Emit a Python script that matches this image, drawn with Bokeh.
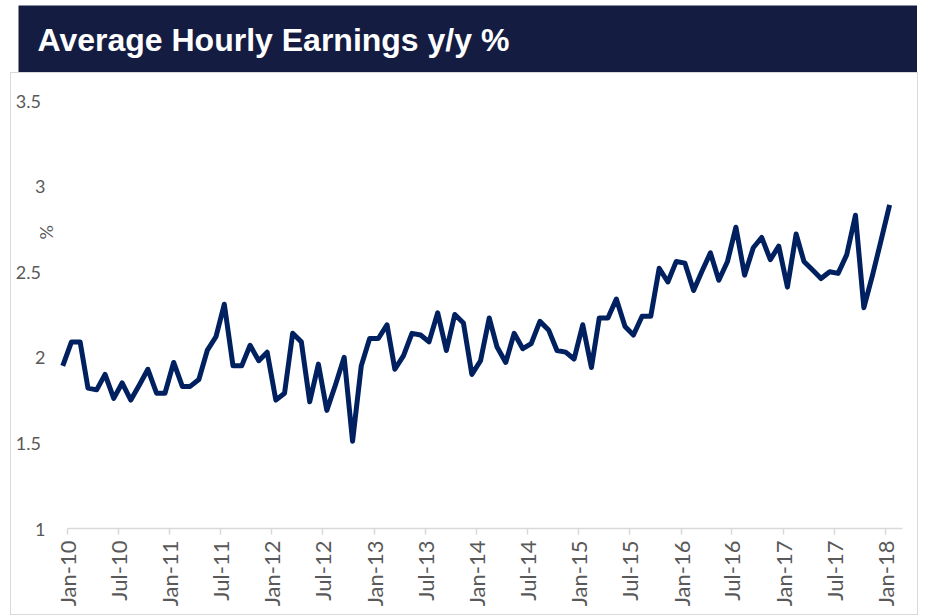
import math
import pandas as pd
from bokeh.plotting import figure
from bokeh.models import (Range1d, FixedTicker, DatetimeTickFormatter, Label, Spacer)
from bokeh.layouts import column, row
from bokeh.embed import file_html
from bokeh.resources import INLINE

# ---------------- data ----------------
title_text = "Average Hourly Earnings y/y %"
y_label = "%"
y_label_pos = 2.73

# monthly observations (plotted mid-month), Dec-09 .. Jan-18
months = pd.date_range("2009-12-01", "2018-01-01", freq="MS") + pd.Timedelta(days=14)
ahe_yoy = [
    1.95,                                                                   # Dec-09
    2.09, 2.09, 1.82, 1.81, 1.90, 1.76, 1.85, 1.75, 1.84, 1.93, 1.79, 1.79,  # 2010
    1.97, 1.83, 1.83, 1.87, 2.04, 2.12, 2.31, 1.95, 1.95, 2.07, 1.98, 2.03,  # 2011
    1.75, 1.79, 2.14, 2.09, 1.74, 1.96, 1.69, 1.84, 2.00, 1.51, 1.95, 2.11,  # 2012
    2.11, 2.19, 1.93, 2.01, 2.14, 2.13, 2.09, 2.26, 2.04, 2.25, 2.20, 1.90,  # 2013
    1.98, 2.23, 2.06, 1.97, 2.14, 2.05, 2.08, 2.21, 2.16, 2.04, 2.03, 1.99,  # 2014
    2.19, 1.94, 2.23, 2.23, 2.34, 2.18, 2.13, 2.24, 2.24, 2.52, 2.44, 2.56,  # 2015
    2.55, 2.39, 2.50, 2.61, 2.45, 2.56, 2.76, 2.48, 2.64, 2.70, 2.57, 2.65,  # 2016
    2.41, 2.72, 2.56, 2.51, 2.46, 2.50, 2.49, 2.60, 2.83, 2.29, 2.48, 2.68,  # 2017
    2.89,                                                                   # Jan-18
]

x_tick_dates = pd.date_range("2010-01-01", "2018-01-01", freq="6MS")
y_ticks = [1, 1.5, 2, 2.5, 3, 3.5]
y_tick_labels = ["1", "1.5", "2", "2.5", "3", "3.5"]
axis_start = pd.Timestamp("2010-01-01")
axis_end = pd.Timestamp("2018-03-02")

# ---------------- layout (page pixels) ----------------
FRAME_L, AXIS_L, FRAME_R = 39, 67, 901      # frame left edge, x-axis start, frame right
px_per_day = (FRAME_R - AXIS_L) / (axis_end - axis_start).days
x_start = axis_start - pd.Timedelta(days=(AXIS_L - FRAME_L) / px_per_day)

# ---------------- style ----------------
NAVY_BAR = "#141c42"
LINE = "#002060"
GREY_TXT = "#595959"
GREY_LN = "#d9d9d9"
TICK_FONT = "Lato"
NBSP = "\u00a0"

# ---------------- title bar ----------------
tf = figure(width=899, height=67, x_range=Range1d(0, 1), y_range=Range1d(0, 1),
            toolbar_location=None, output_backend="svg",
            x_axis_location=None, y_axis_location=None,
            min_border_left=0, min_border_right=0, min_border_top=0, min_border_bottom=0,
            background_fill_color=NAVY_BAR, border_fill_color=NAVY_BAR,
            outline_line_color=None)
tf.grid.visible = False
tf.add_layout(Label(x=0, y=0.5, x_offset=19, y_offset=-1, text=title_text,
                    text_color="white", text_font="Liberation Sans",
                    text_font_style="bold", text_font_size="32px",
                    text_baseline="middle", text_align="left"))

# ---------------- main chart ----------------
p = figure(width=908, height=543, x_axis_type="datetime",
           x_range=Range1d(x_start, axis_end), y_range=Range1d(1, 3.5),
           toolbar_location=None, output_backend="svg",
           min_border_left=FRAME_L - 11, min_border_right=918 - FRAME_R,
           min_border_top=27, min_border_bottom=88,
           background_fill_color="white", border_fill_color="white",
           outline_line_color=None,
           styles={"border": "1px solid #d9d9d9"})
p.grid.visible = False

p.line(months, ahe_yoy, line_color=LINE, line_width=5, line_join="round")

xa = p.xaxis[0]
xa.bounds = (axis_start, axis_end)
xa.ticker = FixedTicker(ticks=[d.timestamp() * 1000 for d in x_tick_dates])
fmt = "%b-%y"
xa.formatter = DatetimeTickFormatter(microseconds=fmt, milliseconds=fmt, seconds=fmt,
                                     minsec=fmt, minutes=fmt, hourmin=fmt, hours=fmt,
                                     days=fmt, months=fmt, years=fmt)
xa.major_label_orientation = math.pi / 2
xa.axis_line_color = GREY_LN
xa.axis_line_width = 1.5
xa.major_tick_line_color = GREY_LN
xa.major_tick_line_width = 1.5
xa.major_tick_out = 6
xa.major_tick_in = 0
xa.minor_tick_line_color = None
xa.major_label_text_color = GREY_TXT
xa.major_label_text_font = TICK_FONT
xa.major_label_text_font_size = "22px"
xa.major_label_standoff = 6

ya = p.yaxis[0]
ya.ticker = FixedTicker(ticks=y_ticks)
ya.major_label_overrides = {t: (lab if "." not in lab else lab + NBSP)
                            for t, lab in zip(y_ticks, y_tick_labels)}
ya.axis_line_color = None
ya.major_tick_line_color = None
ya.major_tick_out = 0
ya.major_tick_in = 0
ya.minor_tick_line_color = None
ya.major_label_text_color = GREY_TXT
ya.major_label_text_font = TICK_FONT
ya.major_label_text_font_size = "18px"
ya.major_label_standoff = -6

# rotated "%" axis title, sitting between the tick labels (inside the frame)
p.add_layout(Label(x=axis_start, y=y_label_pos, x_offset=-22, text=y_label,
                   angle=math.pi / 2, text_color=GREY_TXT, text_font=TICK_FONT,
                   text_font_size="18px", text_align="center", text_baseline="middle"))

layout = column(Spacer(width=918, height=5),
                row(Spacer(width=18, height=67), tf),
                row(Spacer(width=10, height=543), p),
                spacing=0)
open("out.html", "w").write(file_html(layout, INLINE))
